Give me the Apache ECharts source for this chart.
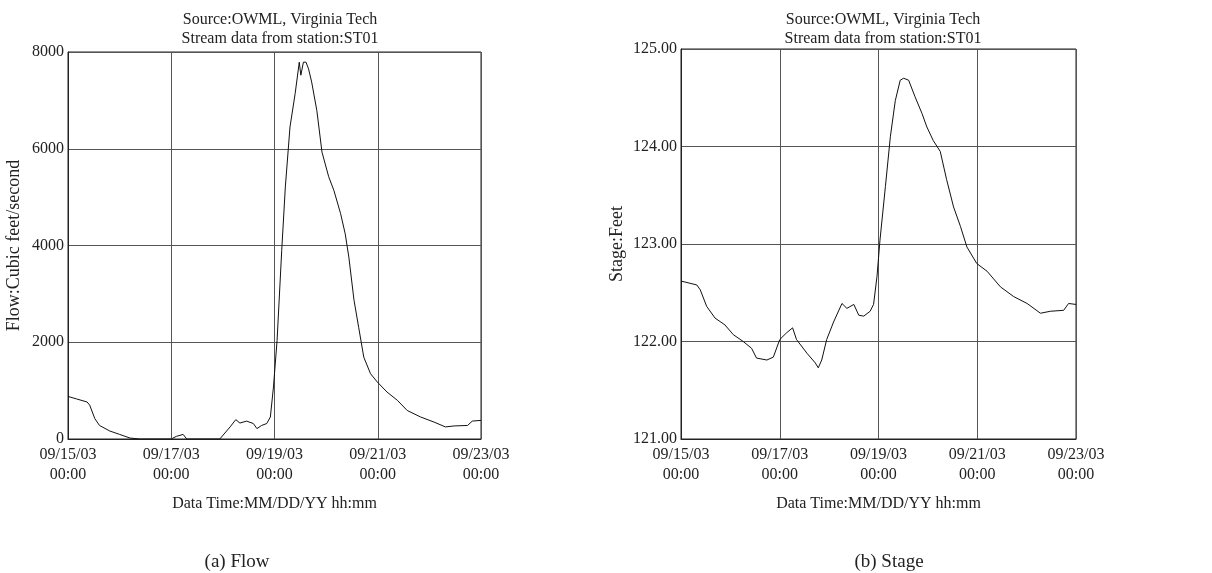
<!DOCTYPE html>
<html>
<head>
<meta charset="utf-8">
<script src="https://cdn.jsdelivr.net/npm/echarts@6/dist/echarts.min.js"></script>
<style>
  html, body { margin: 0; padding: 0; background: #fff; }
  #main { width: 1212px; height: 573px; }
</style>
</head>
<body>
<div id="main"></div>
<script type="text/javascript">
// days since 09/15/03 00:00
var xTickLabels = ['09/15/03\n00:00', '09/17/03\n00:00', '09/19/03\n00:00', '09/21/03\n00:00', '09/23/03\n00:00'];

var flowDays = [0, 0.16, 0.37, 0.42, 0.52, 0.61, 0.81, 1.0, 1.2, 1.39, 2.0, 2.1, 2.23, 2.3, 2.94, 3.14, 3.25, 3.33, 3.46, 3.59, 3.66, 3.75, 3.85, 3.92, 3.98, 4.05, 4.14, 4.21, 4.30, 4.40, 4.48, 4.51, 4.56, 4.61, 4.66, 4.72, 4.82, 4.92, 5.05, 5.15, 5.28, 5.37, 5.44, 5.54, 5.63, 5.73, 5.86, 5.99, 6.18, 6.38, 6.57, 6.83, 7.09, 7.31, 7.48, 7.74, 7.83, 8.0];
var flowValues = [880, 830, 765, 700, 420, 280, 165, 95, 20, 0, 0, 55, 95, 0, 0, 250, 400, 330, 370, 320, 215, 280, 320, 455, 1075, 2040, 3900, 5210, 6450, 7140, 7790, 7520, 7790, 7790, 7650, 7380, 6790, 5930, 5420, 5140, 4660, 4240, 3760, 2870, 2310, 1690, 1350, 1180, 970, 800, 590, 455, 350, 250, 270, 280, 370, 385];

var stageDays = [0, 0.32, 0.39, 0.52, 0.69, 0.89, 1.06, 1.26, 1.43, 1.53, 1.74, 1.87, 2.0, 2.14, 2.26, 2.34, 2.55, 2.72, 2.78, 2.85, 2.95, 3.09, 3.26, 3.36, 3.5, 3.6, 3.7, 3.83, 3.9, 3.97, 4.03, 4.14, 4.24, 4.34, 4.44, 4.51, 4.61, 4.74, 4.88, 4.98, 5.11, 5.25, 5.38, 5.52, 5.66, 5.79, 5.99, 6.2, 6.47, 6.74, 7.01, 7.28, 7.48, 7.75, 7.85, 8.0];
var stageValues = [122.62, 122.58, 122.53, 122.36, 122.24, 122.17, 122.07, 122.0, 121.93, 121.83, 121.81, 121.84, 122.02, 122.09, 122.14, 122.02, 121.88, 121.78, 121.73, 121.81, 122.02, 122.2, 122.39, 122.34, 122.38, 122.27, 122.26, 122.31, 122.38, 122.67, 123.04, 123.59, 124.1, 124.47, 124.68, 124.70, 124.68, 124.51, 124.34, 124.2, 124.06, 123.95, 123.66, 123.38, 123.18, 122.97, 122.8, 122.72, 122.56, 122.46, 122.39, 122.29, 122.31, 122.32, 122.39, 122.38];

function pairs(xs, ys) {
  return xs.map(function (x, i) { return [x, ys[i]]; });
}

var font = '"Liberation Serif", "DejaVu Serif", serif';
var ink = '#222';
var titleText = 'Source:OWML, Virginia Tech\nStream data from station:ST01';

function xAxisFor(idx) {
  return {
    gridIndex: idx,
    type: 'value',
    min: 0, max: 8, interval: 2,
    name: 'Data Time:MM/DD/YY hh:mm',
    nameLocation: 'middle',
    nameGap: 57,
    nameTextStyle: { fontFamily: font, fontSize: 16, color: ink },
    axisLine: { show: true, onZero: false, lineStyle: { color: ink } },
    axisTick: { show: false },
    axisLabel: {
      fontFamily: font, fontSize: 16, color: ink, lineHeight: 20, margin: 6,
      formatter: function (v) { return xTickLabels[Math.round(v / 2)]; }
    },
    splitLine: { show: true, lineStyle: { color: '#555', width: 1 } }
  };
}

var chart = echarts.init(document.getElementById('main'));
var option = {
  backgroundColor: '#fff',
  animation: false,
  title: [
    { text: titleText, left: 275, top: 5, textAlign: 'center',
      textStyle: { fontFamily: font, fontSize: 16, fontWeight: 'normal', color: ink, lineHeight: 19 } },
    { text: titleText, left: 878, top: 5, textAlign: 'center',
      textStyle: { fontFamily: font, fontSize: 16, fontWeight: 'normal', color: ink, lineHeight: 19 } },
    { text: '(a) Flow', left: 232, top: 548, textAlign: 'center',
      textStyle: { fontFamily: font, fontSize: 19, fontWeight: 'normal', color: ink } },
    { text: '(b) Stage', left: 884, top: 548, textAlign: 'center',
      textStyle: { fontFamily: font, fontSize: 19, fontWeight: 'normal', color: ink } }
  ],
  grid: [
    { left: 68, width: 413, top: 52, height: 387, show: true, borderColor: ink, borderWidth: 1 },
    { left: 681, width: 395, top: 49, height: 390, show: true, borderColor: ink, borderWidth: 1 }
  ],
  xAxis: [xAxisFor(0), xAxisFor(1)],
  yAxis: [
    {
      gridIndex: 0, type: 'value', min: 0, max: 8000, interval: 2000,
      name: 'Flow:Cubic feet/second', nameLocation: 'middle', nameGap: 45,
      nameTextStyle: { fontFamily: font, fontSize: 18, color: ink },
      axisLine: { show: true, lineStyle: { color: ink } },
      axisTick: { show: false },
      axisLabel: { fontFamily: font, fontSize: 16, color: ink, margin: 4,
        formatter: function (v) { return String(v); } },
      splitLine: { show: true, lineStyle: { color: '#555', width: 1 } }
    },
    {
      gridIndex: 1, type: 'value', min: 121, max: 125, interval: 1,
      name: 'Stage:Feet', nameLocation: 'middle', nameGap: 55,
      nameTextStyle: { fontFamily: font, fontSize: 18, color: ink },
      axisLine: { show: true, lineStyle: { color: ink } },
      axisTick: { show: false },
      axisLabel: { fontFamily: font, fontSize: 16, color: ink, margin: 4,
        formatter: function (v) { return v.toFixed(2); } },
      splitLine: { show: true, lineStyle: { color: '#555', width: 1 } }
    }
  ],
  series: [
    { type: 'line', xAxisIndex: 0, yAxisIndex: 0, data: pairs(flowDays, flowValues),
      showSymbol: false, lineStyle: { color: '#111', width: 1 } },
    { type: 'line', xAxisIndex: 1, yAxisIndex: 1, data: pairs(stageDays, stageValues),
      showSymbol: false, lineStyle: { color: '#111', width: 1 } }
  ]
};
chart.setOption(option);
</script>
</body>
</html>
